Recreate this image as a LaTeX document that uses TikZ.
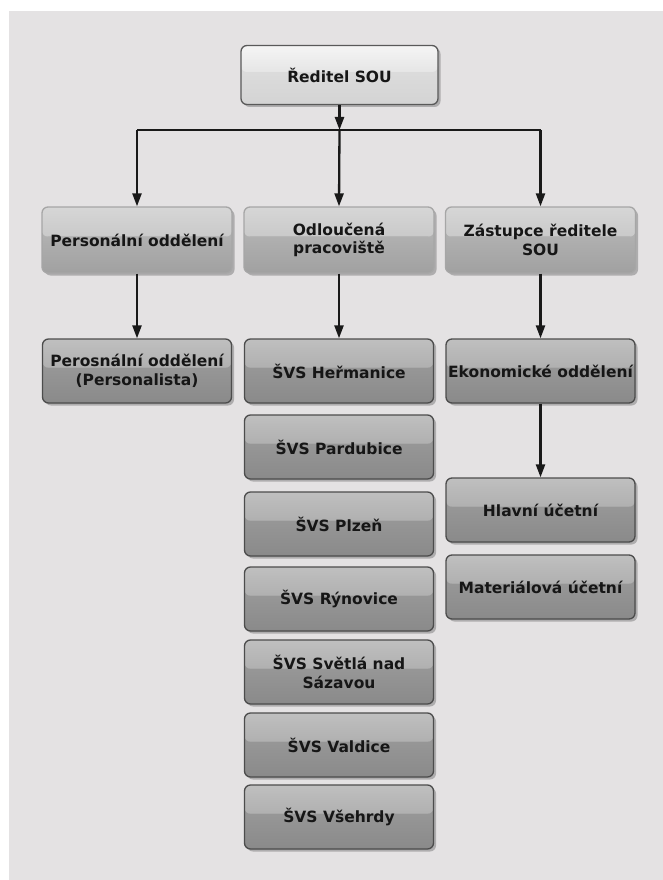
\documentclass[tikz,border=0pt]{standalone}
\usepackage{fontspec}
\setmainfont{DejaVu Sans}
\usetikzlibrary{arrows.meta,shadows,calc}
\definecolor{bg}{HTML}{E4E2E3}
\definecolor{txt}{HTML}{161616}
\tikzset{
  gbox/.style n args={5}{
    rounded corners=6pt, draw=#1, line width=1.3pt,
    fill=#4,
    drop shadow={shadow xshift=2.5pt, shadow yshift=-2.5pt, opacity=0.35, fill=black!70},
    align=center, text=txt, inner sep=2pt,
    font=\fontsize{15.5}{18.5}\selectfont\bfseries,
    path picture={
      \fill[#4] (path picture bounding box.south west) rectangle (path picture bounding box.north east);
      \fill[top color=#2, bottom color=#3]
        (path picture bounding box.north west) rectangle
        ($(path picture bounding box.north east)!0.45!(path picture bounding box.south east)$);
      \fill[top color=#4, bottom color=#5]
        ($(path picture bounding box.north west)!0.45!(path picture bounding box.south west)$) rectangle
        (path picture bounding box.south east);
    }
  },
  topbox/.style={gbox={black!65}{white!96!black}{white!90!black}{white!86!black}{white!83!black}, minimum width=197pt, minimum height=59pt},
  midbox/.style={gbox={black!35}{white!84!black}{white!79!black}{white!69!black}{white!63!black}, minimum width=190pt, minimum height=66pt},
  lowbox/.style={gbox={black!70}{white!75!black}{white!69!black}{white!59!black}{white!54!black}, minimum width=189pt, minimum height=64pt},
  conn/.style={line width=2.3pt, draw=black!90},
  arr/.style={conn, -{Triangle[length=13pt,width=9pt]}}
}
\begin{document}
\begin{tikzpicture}[x=1pt,y=-1pt]
\useasboundingbox (0,0) rectangle (663,880);
\fill[white] (0,0) rectangle (663,880);
\fill[bg] (9,11) rectangle (663,880);

\node[topbox] (top) at (339.5,75) {Ředitel SOU};

\node[midbox] (pers) at (137,240) {Personální oddělení};
\node[midbox] (odl)  at (339,240) {Odloučená\\pracoviště};
\node[midbox] (zast) at (540.5,240) {Zástupce ředitele\\SOU};

\node[lowbox] (pers2) at (137,371) {Perosnální oddělení\\(Personalista)};

\node[lowbox] (s1) at (339,371) {ŠVS Heřmanice};
\node[lowbox] (s2) at (339,447) {ŠVS Pardubice};
\node[lowbox] (s3) at (339,524) {ŠVS Plzeň};
\node[lowbox] (s4) at (339,599) {ŠVS Rýnovice};
\node[lowbox] (s5) at (339,672) {ŠVS Světlá nad\\Sázavou};
\node[lowbox] (s6) at (339,745) {ŠVS Valdice};
\node[lowbox] (s7) at (339,817) {ŠVS Všehrdy};

\node[lowbox] (eko) at (540.5,371) {Ekonomické oddělení};
\node[lowbox] (hl)  at (540.5,510) {Hlavní účetní};
\node[lowbox] (mat) at (540.5,587) {Materiálová účetní};

\coordinate (busL) at (137,130);
\coordinate (busR) at (540.5,130);
\coordinate (busM) at (339.5,130);

\draw[conn] (busL) -- (busR);
\draw[arr] (top.south) -- (busM);
\draw[arr] (busL) -- (pers.north);
\draw[arr] (top.south |- busM) -- (odl.north);
\draw[arr] (busR) -- (zast.north);

\draw[arr] (pers.south) -- (pers2.north);
\draw[arr] (odl.south) -- (s1.north);
\draw[arr] (zast.south) -- (eko.north);
\draw[arr] (eko.south) -- (hl.north);
\end{tikzpicture}
\end{document}
